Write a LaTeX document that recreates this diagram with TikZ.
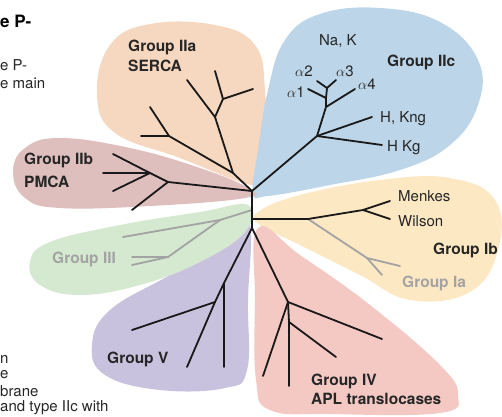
\documentclass[tikz,border=0pt]{standalone}
\usepackage{fontspec}
\setmainfont{TeX Gyre Heros}
\definecolor{serca}{HTML}{F6D8C0}
\definecolor{naka}{HTML}{BCD5E8}
\definecolor{copper}{HTML}{FDE8C4}
\definecolor{flippase}{HTML}{F4C9C3}
\definecolor{grpfive}{HTML}{C9C2DE}
\definecolor{grpthree}{HTML}{D5E8D0}
\definecolor{pmca}{HTML}{DEBFBE}
\definecolor{fadegrey}{HTML}{A3A3A3}
\begin{document}
\begin{tikzpicture}[
  x=1pt, y=-1pt,
  every node/.style={inner sep=0pt, font=\fontsize{15}{18}\selectfont},
  grp/.style={font=\fontsize{15.5}{20}\selectfont\bfseries, text=black!85},
  leaf/.style={anchor=base west, text=black!85},
  branch/.style={draw, line width=1.8pt, black!90, line cap=round},
  faded/.style={draw, line width=1.8pt, fadegrey, line cap=round},
  petal/.style={smooth cycle, tension=0.7}
]
\useasboundingbox (0,0) rectangle (502,416);

% petals
\fill[serca] plot[petal] coordinates {(247,184) (180,158) (115,133) (97,95) (110,45) (150,24) (215,25) (255,45) (265,90) (264,150) (258,178)};
\fill[naka] plot[petal] coordinates {(253,193) (258,150) (268,90) (285,40) (320,14) (380,8) (440,22) (478,60) (478,105) (450,145) (400,170) (330,185) (268,196)};
\fill[copper] plot[petal] coordinates {(258,212) (300,195) (380,180) (450,178) (495,200) (498,250) (470,292) (410,300) (360,275) (300,245) (260,225)};
\fill[flippase] plot[petal] coordinates {(258,228) (300,255) (370,305) (440,365) (458,395) (440,413) (330,414) (270,410) (256,380) (255,300)};
\fill[grpfive] plot[petal] coordinates {(250,225) (248,300) (247,370) (225,388) (160,390) (105,375) (92,345) (110,310) (170,275) (230,240)};
\fill[grpthree] plot[petal] coordinates {(248,205) (245,232) (200,262) (140,285) (80,295) (40,285) (30,262) (50,242) (120,225) (200,212)};
\fill[pmca] plot[petal] coordinates {(248,188) (245,198) (150,206) (60,208) (25,198) (13,172) (25,148) (60,138) (130,148) (200,168)};

% hub
\coordinate (top) at (252,191);
\coordinate (bottom) at (252,228);
\coordinate (ibroot) at (252,219);
\coordinate (iiiroot) at (252,210);

% group IIc
\coordinate (c1) at (317,136);
\coordinate (hkg) at (382,145);
\coordinate (hkng) at (372,117);
\coordinate (c2) at (326,107);
\coordinate (a4) at (355,89);
\coordinate (c3) at (326,98);
\coordinate (a1) at (308,89);
\coordinate (c4) at (327,88);
\coordinate (a2) at (317,81);
\coordinate (a3) at (336,80);

% group IIa
\coordinate (s1) at (233,173);
\coordinate (s2) at (215,117);
\coordinate (s3) at (223,99);
\coordinate (s4) at (169,136);
\coordinate (se1) at (187,80);
\coordinate (se2) at (215,71);
\coordinate (se3) at (253,89);
\coordinate (se4) at (150,107);
\coordinate (se5) at (141,136);

% group IIb
\coordinate (p1) at (168,182);
\coordinate (p2) at (150,173);
\coordinate (pe1) at (132,210);
\coordinate (pe2) at (113,154);
\coordinate (pe3) at (103,173);
\coordinate (pe4) at (113,191);

% group Ib / Ia
\coordinate (b1) at (308,219);
\coordinate (b2) at (363,210);
\coordinate (menkes) at (390,201);
\coordinate (wilson) at (390,219);
\coordinate (ia1) at (367,258);
\coordinate (iae1) at (400,266);
\coordinate (iae2) at (382,275);

% group IV
\coordinate (f1) at (288,302);
\coordinate (f2) at (289,322);
\coordinate (fe1) at (382,339);
\coordinate (fe2) at (263,376);
\coordinate (fe3) at (289,386);
\coordinate (fe4) at (336,357);

% group V
\coordinate (v1) at (224,283);
\coordinate (v2) at (215,302);
\coordinate (ve1) at (224,367);
\coordinate (ve2) at (132,330);
\coordinate (ve3) at (187,367);

% group III
\coordinate (t1) at (220,220);
\coordinate (t2) at (168,257);
\coordinate (te1) at (123,237);
\coordinate (te2) at (132,257);
\coordinate (te3) at (132,265);

% grey branches
\draw[faded] (iiiroot) -- (t1) -- (te1);
\draw[faded] (t1) -- (t2) -- (te2);
\draw[faded] (t2) -- (te3);
\draw[faded] (b1) -- (ia1) -- (iae1);
\draw[faded] (ia1) -- (iae2);

% black branches
\draw[branch] (top) -- (bottom);
\draw[branch] (top) -- (c1) -- (hkg);
\draw[branch] (c1) -- (hkng);
\draw[branch] (c1) -- (c2) -- (a4);
\draw[branch] (c2) -- (c3) -- (a1);
\draw[branch] (c3) -- (c4) -- (a2);
\draw[branch] (c4) -- (a3);
\draw[branch] (top) -- (s1) -- (s2) -- (se1);
\draw[branch] (s2) -- (s3) -- (se2);
\draw[branch] (s3) -- (se3);
\draw[branch] (s1) -- (s4) -- (se4);
\draw[branch] (s4) -- (se5);
\draw[branch] (top) -- (p1) -- (pe1);
\draw[branch] (p1) -- (p2) -- (pe2);
\draw[branch] (p2) -- (pe3);
\draw[branch] (p2) -- (pe4);
\draw[branch] (ibroot) -- (b1) -- (b2) -- (menkes);
\draw[branch] (b2) -- (wilson);
\draw[branch] (bottom) -- (f1) -- (fe1);
\draw[branch] (f1) -- (fe2);
\draw[branch] (f1) -- (f2) -- (fe3);
\draw[branch] (f2) -- (fe4);
\draw[branch] (bottom) -- (v1) -- (ve1);
\draw[branch] (v1) -- (v2) -- (ve2);
\draw[branch] (v2) -- (ve3);

% labels
\node[grp, anchor=north west, align=left] (lbliia) at (128,39.5) {Group IIa\\SERCA};
\node[grp, anchor=north west, align=left, font=\fontsize{15.5}{23}\selectfont\bfseries] (lbliib) at (24,152.5) {Group IIb\\PMCA};
\node[grp, anchor=base west] (lbliic) at (387,66) {Group IIc};
\node[grp, anchor=base west] (lblib) at (433,254) {Group Ib};
\node[grp, anchor=base west, text=fadegrey] (lblia) at (402,287) {Group Ia};
\node[grp, anchor=base west, text=fadegrey] (lbliii) at (52,263) {Group III};
\node[grp, anchor=base west] (lblv) at (107,363) {Group V};
\node[grp, anchor=north west, align=left, font=\fontsize{15.5}{19}\selectfont\bfseries] (lbliv) at (311,373.5) {Group IV\\APL translocases};

\node[leaf] (lblnak) at (319,45) {Na, K};
\node[leaf] (lbla1) at (287,97) {$\alpha$1};
\node[leaf] (lbla2) at (295,76) {$\alpha$2};
\node[leaf] (lbla3) at (336,76) {$\alpha$3};
\node[leaf] (lbla4) at (358,89) {$\alpha$4};
\node[leaf] (lblhkng) at (380,122) {H, Kng};
\node[leaf] (lblhkg) at (387,151) {H Kg};
\node[leaf] (lblmenkes) at (398,201) {Menkes};
\node[leaf] (lblwilson) at (398,226) {Wilson};

% page text cut off at the left
\node[anchor=base west, font=\fontsize{17}{20}\selectfont\bfseries] (cut1) at (0,27) {e P-};
\node[leaf] (cut2) at (0,70) {e P-};
\node[leaf] (cut3) at (0,88) {e main};
\node[leaf] (cut4) at (0,363) {n};
\node[leaf] (cut5) at (0,378) {e};
\node[leaf] (cut6) at (0,396) {brane};
\node[leaf] (cut7) at (0,411) {and type IIc with};

\end{tikzpicture}
\end{document}
